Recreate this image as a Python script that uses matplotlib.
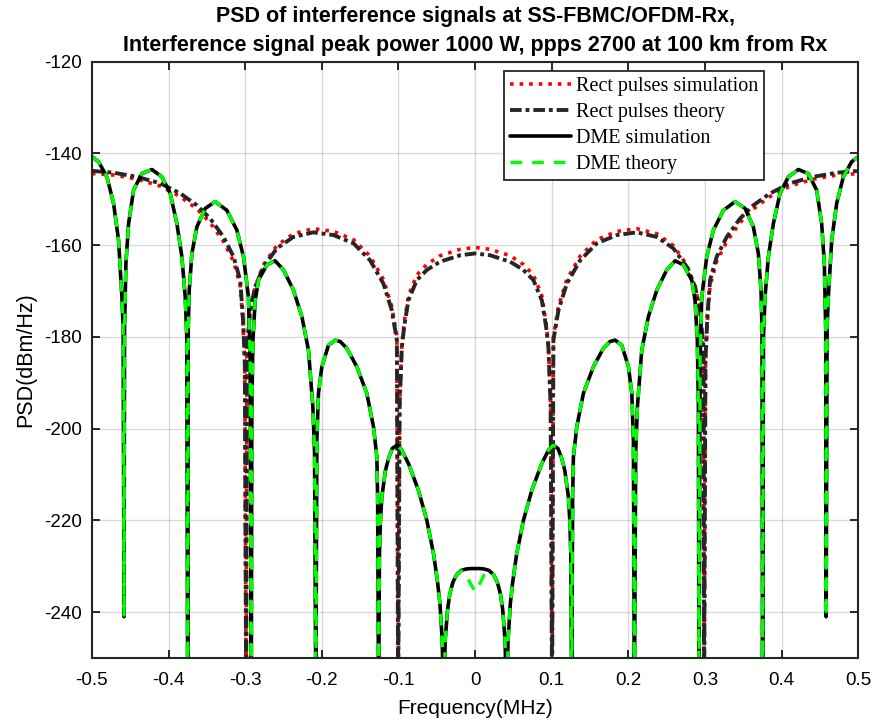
import numpy as np
import matplotlib
matplotlib.use("Agg")
import matplotlib.pyplot as plt
from matplotlib.ticker import FuncFormatter

# positive-frequency half of each curve (MHz, dBm/Hz); the spectrum is symmetric
dme_f = [0.000, 0.006, 0.012, 0.018, 0.024, 0.029, 0.033, 0.036, 0.039, 0.041,
         0.043, 0.046, 0.049, 0.054, 0.063, 0.074, 0.087, 0.096, 0.102, 0.108,
         0.113, 0.117, 0.1217, 0.1235, 0.1248, 0.126, 0.1272, 0.1282, 0.1326, 0.1413,
         0.1543, 0.1673, 0.176, 0.1826, 0.1913, 0.200, 0.2044, 0.2065, 0.2078, 0.2095,
         0.2117, 0.2174, 0.226, 0.237, 0.250, 0.2609, 0.2717, 0.2826, 0.2869, 0.2899,
         0.2913, 0.292, 0.2935, 0.2957, 0.3022, 0.3109, 0.3239, 0.3391, 0.3522, 0.363,
         0.3695, 0.373, 0.3743, 0.375, 0.3762, 0.3782, 0.3826, 0.3891, 0.3978, 0.4087,
         0.4217, 0.4348, 0.4456, 0.4521, 0.4556, 0.4574, 0.458, 0.4592, 0.4608, 0.4652,
         0.4717, 0.4804, 0.4913, 0.500]
dme_sim = [-230.5, -230.5, -230.6, -230.9, -231.8, -233.5, -236.0, -239.5, -246.0, -260.0,
           -246.0, -238.0, -233.5, -227.5, -220.0, -213.4, -207.6, -204.6, -203.6, -204.3,
           -206.5, -209.1, -214.9, -220.0, -227.2, -260.0, -215.0, -206.2, -199.6, -192.3,
           -186.5, -182.5, -181.0, -180.7, -181.8, -186.5, -192.3, -202.5, -260.0, -205.0,
           -195.2, -182.9, -175.6, -169.8, -165.4, -163.4, -164.3, -167.6, -172.0, -180.7,
           -195.3, -260.0, -185.0, -171.3, -162.5, -156.7, -152.4, -150.5, -152.0, -156.0,
           -161.8, -169.8, -178.5, -260.0, -180.0, -171.3, -162.5, -155.3, -148.7, -145.1,
           -143.5, -144.4, -148.0, -155.3, -164.0, -178.5, -241.0, -178.0, -171.3, -158.9,
           -150.9, -145.1, -141.8, -140.7]
# theory differs from simulation only around f = 0
dme_theory_center = [-235.5, -233.8, -231.8, -231.0]

rect_f = [0.000, 0.0196, 0.0457, 0.063, 0.076, 0.087, 0.0926, 0.0956, 0.0985, 0.1004,
          0.1021, 0.1087, 0.1196, 0.137, 0.1587, 0.1848, 0.2109, 0.237, 0.2587, 0.2761,
          0.287, 0.2935, 0.2978, 0.2987, 0.3005, 0.303, 0.3065, 0.3152, 0.3283, 0.3456,
          0.363, 0.3848, 0.4109, 0.4413, 0.4717, 0.500]
rect_theory = [-161.8, -162.2, -163.6, -165.4, -167.6, -172.0, -177.8, -182.2, -195.0, -260.0,
               -180.7, -174.2, -168.4, -163.3, -159.6, -157.8, -157.2, -158.2, -160.7, -164.7,
               -169.1, -174.2, -182.2, -260.0, -185.0, -175.6, -167.6, -162.5, -158.2, -154.2,
               -151.3, -148.7, -146.5, -145.1, -144.2, -143.8]
rect_sim = [-160.5, -160.9, -162.3, -164.2, -166.5, -171.0, -177.0, -181.5, -195.0, -260.0,
            -180.0, -173.4, -167.5, -162.4, -158.8, -157.0, -156.4, -157.5, -160.1, -164.3,
            -169.0, -174.5, -183.0, -260.0, -186.0, -176.8, -168.8, -163.5, -159.2, -155.1,
            -152.1, -149.4, -147.1, -145.6, -144.7, -144.4]

xticks = [-0.5, -0.4, -0.3, -0.2, -0.1, 0, 0.1, 0.2, 0.3, 0.4, 0.5]
yticks = [-240, -220, -200, -180, -160, -140, -120]


def mirror(f, v):
    f = np.asarray(f)
    v = np.asarray(v)
    return np.concatenate([-f[::-1], f[1:]]), np.concatenate([v[::-1], v[1:]])


dme_theory = list(dme_theory_center) + dme_sim[len(dme_theory_center):]

fr, rs = mirror(rect_f, rect_sim)
_, rt = mirror(rect_f, rect_theory)
fd, ds = mirror(dme_f, dme_sim)
_, dt = mirror(dme_f, dme_theory)

plt.rcParams['font.family'] = ['Liberation Sans', 'DejaVu Sans']
plt.rcParams['axes.unicode_minus'] = False

fig = plt.figure(figsize=(8.75, 7.25), dpi=100)
ax = fig.add_axes([0.105, 0.0924, 0.876, 0.8225])

ax.plot(fr, rs, ':', color='#FF0000', lw=2.6, label='Rect pulses simulation')
ax.plot(fr, rt, color='#262626', lw=2.8, dashes=(3, 1, 1, 1),
        label='Rect pulses theory')
ax.plot(fd, ds, '-', color='black', lw=2.6, solid_joinstyle='round',
        solid_capstyle='round', label='DME simulation')
ax.plot(fd, dt, color='#00FF00', lw=2.4, dashes=(3.5, 3), label='DME theory')

ax.set_xlim(-0.5, 0.5)
ax.set_ylim(-250, -120)
ax.set_xticks(xticks)
ax.set_yticks(yticks)
ax.xaxis.set_major_formatter(FuncFormatter(lambda v, p: '0' if abs(v) < 1e-9 else f'{v:g}'))
ax.grid(True, color='#000000', alpha=0.15, lw=1)
ax.tick_params(direction='in', length=6, width=1.4, labelsize=13.5, pad=7,
               top=True, right=True, colors='#262626')
ax.tick_params(axis='x', pad=10)
ax.tick_params(labelcolor='black')
for s in ax.spines.values():
    s.set_linewidth(1.5)
    s.set_color('#262626')

ax.set_xlabel('Frequency(MHz)', fontsize=15, labelpad=7)
ax.set_ylabel('PSD(dBm/Hz)', fontsize=15.5, labelpad=6)
ax.set_title('PSD of interference signals at SS-FBMC/OFDM-Rx,\n'
             'Interference signal peak power 1000 W, ppps 2700 at 100 km from Rx',
             fontsize=15.5, fontweight='bold', linespacing=1.45, pad=8)

leg = ax.legend(loc='upper right', bbox_to_anchor=(0.877, 0.984),
                prop={'family': 'Liberation Serif', 'size': 14.5},
                handlelength=3.0, handletextpad=0.25, borderpad=0.3,
                labelspacing=0.33, fancybox=False, framealpha=1, borderaxespad=0)
leg.get_frame().set_edgecolor('#262626')
leg.get_frame().set_linewidth(1.3)

fig.savefig('out.png', dpi=100)
